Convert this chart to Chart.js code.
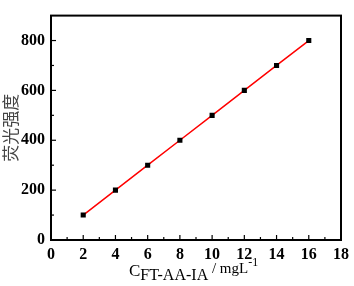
<!DOCTYPE html>
<html>
<head>
<meta charset="utf-8">
<script src="https://cdn.jsdelivr.net/npm/chart.js@4"></script>
<style>
  html, body { margin: 0; padding: 0; background: #fff; }
  #wrap { width: 354px; height: 286px; }
</style>
</head>
<body>
<div id="wrap"><canvas id="chart" width="354" height="286"></canvas></div>
<script>
const concentrations = [2, 4, 6, 8, 10, 12, 14, 16];
const intensities = [100, 200, 300, 400, 500, 600, 700, 800];
const xTicks = [0, 2, 4, 6, 8, 10, 12, 14, 16, 18];
const yTicks = [0, 200, 400, 600, 800];

const serifBold = { family: '"Liberation Serif", "Times New Roman", serif', size: 16, weight: 'bold' };

// frame round the plot area + ticks pointing inward
const framePlugin = {
  id: 'frame',
  afterDraw(chart) {
    const { ctx, chartArea: a, scales } = chart;
    ctx.save();
    ctx.strokeStyle = '#000';
    ctx.lineWidth = 2;
    ctx.strokeRect(a.left, a.top, a.right - a.left, a.bottom - a.top);
    ctx.lineWidth = 1.2;
    // x ticks, major every 2, minor every 1
    for (let v = 1; v < 18; v++) {
      const px = scales.x.getPixelForValue(v);
      const len = v % 2 === 0 ? 5 : 3;
      ctx.beginPath();
      ctx.moveTo(px, a.bottom);
      ctx.lineTo(px, a.bottom - len);
      ctx.stroke();
    }
    // y ticks, major every 200, minor every 100
    for (let v = 100; v < 900; v += 100) {
      const py = scales.y.getPixelForValue(v);
      const len = v % 200 === 0 ? 5 : 3;
      ctx.beginPath();
      ctx.moveTo(a.left, py);
      ctx.lineTo(a.left + len, py);
      ctx.stroke();
    }
    // x axis title with subscript and superscript
    ctx.fillStyle = '#000';
    ctx.textBaseline = 'alphabetic';
    ctx.textAlign = 'left';
    const parts = [
      { t: 'C', size: 17, y: 276 },
      { t: 'FT-AA-IA', size: 16, y: 280 },
      { t: ' / mgL', size: 15, y: 273 },
      { t: '-1', size: 12, y: 266 }
    ];
    let x = 129;
    parts.forEach(p => {
      ctx.font = p.size + 'px "Liberation Serif", "Times New Roman", serif';
      ctx.fillText(p.t, x, p.y);
      x += ctx.measureText(p.t).width;
    });
    ctx.restore();
  }
};

new Chart(document.getElementById('chart'), {
  type: 'line',
  data: {
    datasets: [{
      data: concentrations.map((c, i) => ({ x: c, y: intensities[i] })),
      borderColor: '#ff0000',
      borderWidth: 1.5,
      pointStyle: 'rect',
      pointRadius: 3.6,
      pointBackgroundColor: '#000',
      pointBorderColor: '#000',
      pointBorderWidth: 0,
      tension: 0
    }]
  },
  options: {
    responsive: false,
    animation: false,
    layout: { padding: { top: 5, right: 10, left: 0, bottom: 0 } },
    plugins: { legend: { display: false }, tooltip: { enabled: false } },
    scales: {
      x: {
        type: 'linear',
        min: 0,
        max: 18,
        afterBuildTicks: s => { s.ticks = xTicks.map(v => ({ value: v })); },
        afterFit: s => { s.height = 46; },
        grid: { display: false, drawTicks: false },
        border: { display: false },
        ticks: { color: '#000', font: serifBold, padding: 5, maxRotation: 0 }
      },
      y: {
        min: 0,
        max: 900,
        afterBuildTicks: s => { s.ticks = yTicks.map(v => ({ value: v })); },
        afterFit: s => { s.width = 51; },
        grid: { display: false, drawTicks: false },
        border: { display: false },
        ticks: { color: '#000', font: serifBold, padding: 6 },
        title: {
          display: true,
          text: '荧光强度',
          color: '#444',
          font: { family: '"Noto Sans CJK SC", sans-serif', size: 17 },
          padding: { top: 0, bottom: 0 }
        }
      }
    }
  },
  plugins: [framePlugin]
});
</script>
</body>
</html>
